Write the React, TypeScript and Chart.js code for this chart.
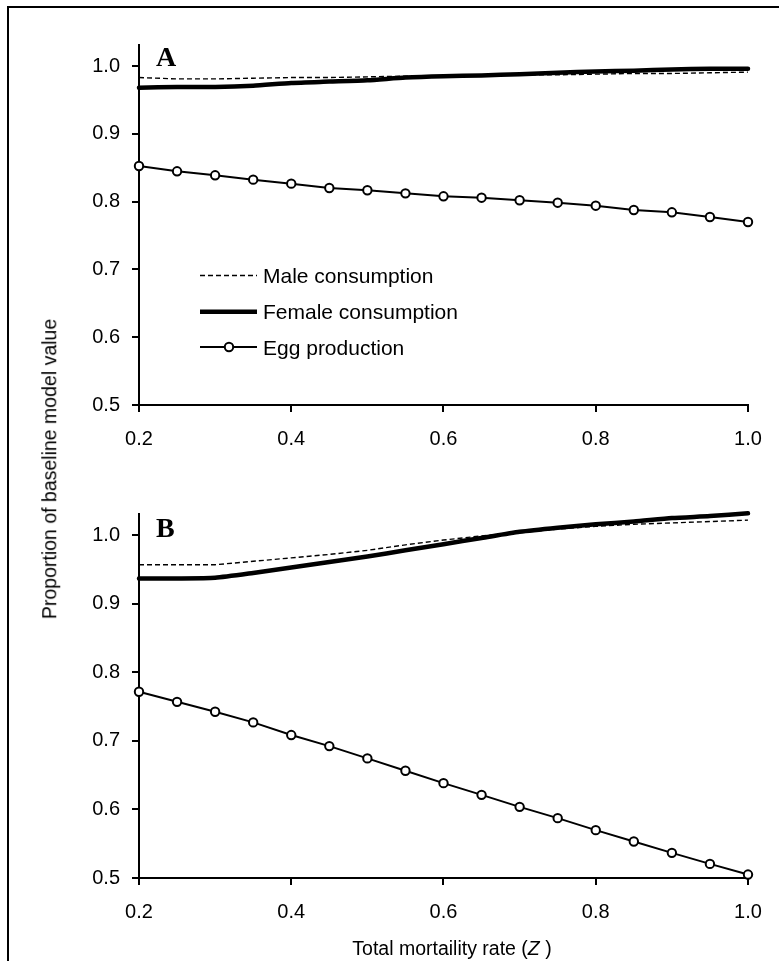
import React, { useEffect, useRef } from "react";
import { Chart, registerables } from "chart.js";

Chart.register(...registerables);

// ---- data ----
const zValues = [0.2, 0.25, 0.3, 0.35, 0.4, 0.45, 0.5, 0.55, 0.6, 0.65, 0.7, 0.75, 0.8, 0.85, 0.9, 0.95, 1.0];
const xTicks = [0.2, 0.4, 0.6, 0.8, 1.0];
const yTicks = [0.5, 0.6, 0.7, 0.8, 0.9, 1.0];
const yMin = 0.5;
const yMax = 1.031;

const maleA = [0.983, 0.981, 0.981, 0.982, 0.983, 0.983, 0.984, 0.985, 0.985, 0.986, 0.987, 0.987, 0.988, 0.989, 0.989, 0.99, 0.991];
const femaleA = [0.968, 0.969, 0.969, 0.971, 0.975, 0.977, 0.979, 0.983, 0.985, 0.986, 0.988, 0.99, 0.992, 0.993, 0.995, 0.996, 0.996];
const eggA = [0.8525, 0.8447, 0.8388, 0.8324, 0.8265, 0.82, 0.8167, 0.8122, 0.8078, 0.8058, 0.802, 0.7984, 0.794, 0.7876, 0.7842, 0.7773, 0.77];

const maleB = [0.957, 0.957, 0.957, 0.962, 0.967, 0.972, 0.978, 0.986, 0.993, 0.999, 1.004, 1.009, 1.013, 1.016, 1.018, 1.02, 1.022];
const femaleB = [0.937, 0.937, 0.938, 0.945, 0.953, 0.961, 0.969, 0.978, 0.987, 0.996, 1.005, 1.011, 1.016, 1.02, 1.025, 1.028, 1.032];
const eggB = [0.7717, 0.757, 0.7425, 0.727, 0.7085, 0.6924, 0.6745, 0.6564, 0.6384, 0.6213, 0.6038, 0.5873, 0.5698, 0.5533, 0.5367, 0.5206, 0.505];

const seriesLabels = ["Male consumption", "Female consumption", "Egg production"];
const panelLabels = ["A", "B"];
const yAxisTitle = "Proportion of baseline model value";
const xAxisTitleMain = "Total mortaility rate (";
const xAxisTitleVar = "Z";
const xAxisTitleEnd = ")";

const SANS = '"Liberation Sans", Arial, Helvetica, sans-serif';
const SERIF = '"Liberation Serif", "Times New Roman", serif';

const toPoints = (ys: number[]) => zValues.map((x, i) => ({ x, y: ys[i] }));

function buildChart(
  canvas: HTMLCanvasElement,
  male: number[],
  female: number[],
  egg: number[],
  panel: string,
  padTop: number,
  xHeight: number,
  letterBaseline: number,
  showLegend: boolean
) {
  const panelPlugin = {
    id: "panelDecor" + panel,
    afterDraw(chart: any) {
      const ctx = chart.ctx;
      ctx.save();
      ctx.fillStyle = "#000";
      ctx.font = `bold 28px ${SERIF}`;
      ctx.textAlign = "left";
      ctx.textBaseline = "alphabetic";
      ctx.fillText(panel, 156, letterBaseline);
      if (showLegend) {
        const rows = [
          { y: 275.5, base: 283.3 },
          { y: 311.7, base: 319.3 },
          { y: 347, base: 354.5 },
        ];
        const x0 = 200;
        const x1 = 257;
        ctx.font = `21px ${SANS}`;
        rows.forEach((r, i) => {
          const ds = chart.data.datasets[[2, 1, 0][i]];
          ctx.save();
          ctx.strokeStyle = "#000";
          ctx.lineWidth = ds.borderWidth;
          ctx.setLineDash(ds.borderDash || []);
          ctx.beginPath();
          ctx.moveTo(x0, r.y);
          ctx.lineTo(x1, r.y);
          ctx.stroke();
          ctx.restore();
          if (ds.pointRadius > 0) {
            ctx.beginPath();
            ctx.arc(229, r.y, ds.pointRadius, 0, Math.PI * 2);
            ctx.fillStyle = "#fff";
            ctx.fill();
            ctx.lineWidth = ds.pointBorderWidth;
            ctx.strokeStyle = "#000";
            ctx.stroke();
          }
          ctx.fillStyle = "#000";
          ctx.fillText(ds.label, 263, r.base);
        });
      }
      ctx.restore();
    },
  };

  return new Chart(canvas, {
    type: "line",
    data: {
      datasets: [
        {
          label: seriesLabels[2],
          data: toPoints(egg),
          borderColor: "#000",
          borderWidth: 2,
          pointRadius: 4.2,
          pointBorderWidth: 2,
          pointBackgroundColor: "#fff",
          pointBorderColor: "#000",
          tension: 0,
          clip: false as any,
        },
        {
          label: seriesLabels[1],
          data: toPoints(female),
          borderColor: "#000",
          borderWidth: 4.5,
          pointRadius: 0,
          tension: 0.2,
          borderCapStyle: "round",
          clip: false as any,
        },
        {
          label: seriesLabels[0],
          data: toPoints(male),
          borderColor: "#000",
          borderWidth: 1.4,
          borderDash: [5, 3],
          pointRadius: 0,
          tension: 0,
          clip: false as any,
        },
      ],
    },
    options: {
      animation: false,
      responsive: false,
      devicePixelRatio: 1,
      events: [],
      layout: { padding: { top: padTop, right: 31, left: 0, bottom: 0 } },
      plugins: { legend: { display: false }, tooltip: { enabled: false }, title: { display: false } },
      scales: {
        x: {
          type: "linear",
          min: 0.2,
          max: 1.0,
          bounds: "data",
          afterBuildTicks: (s: any) => {
            s.ticks = xTicks.map((v) => ({ value: v }));
          },
          afterFit: (s: any) => {
            s.height = xHeight;
          },
          ticks: {
            color: "#000",
            font: { family: SANS, size: 20 },
            padding: 15,
            maxRotation: 0,
            autoSkip: false,
            callback: (v: any) => Number(v).toFixed(1),
          },
          grid: { drawOnChartArea: false, drawTicks: true, tickLength: 7, color: "#000", lineWidth: 2 },
          border: { display: true, color: "#000", width: 2 },
        },
        y: {
          type: "linear",
          min: yMin,
          max: yMax,
          bounds: "data",
          afterBuildTicks: (s: any) => {
            s.ticks = yTicks.map((v) => ({ value: v }));
          },
          afterFit: (s: any) => {
            s.width = 139;
          },
          ticks: {
            color: "#000",
            font: { family: SANS, size: 20 },
            padding: 12,
            autoSkip: false,
            callback: (v: any) => Number(v).toFixed(1),
          },
          grid: { drawOnChartArea: false, drawTicks: true, tickLength: 7, color: "#000", lineWidth: 2 },
          border: { display: true, color: "#000", width: 2 },
        },
      },
    } as any,
    plugins: [panelPlugin],
  });
}

export default function App() {
  const refA = useRef<HTMLCanvasElement>(null);
  const refB = useRef<HTMLCanvasElement>(null);

  useEffect(() => {
    const a = buildChart(refA.current!, maleA, femaleA, eggA, panelLabels[0], 45, 75, 66, true);
    const b = buildChart(refB.current!, maleB, femaleB, eggB, panelLabels[1], 34, 83, 57, false);
    return () => {
      a.destroy();
      b.destroy();
    };
  }, []);

  return (
    <div
      style={{
        position: "absolute",
        left: 0,
        top: 0,
        width: 779,
        height: 961,
        overflow: "hidden",
        background: "#fff",
      }}
    >
      <div
        style={{
          position: "absolute",
          left: 7,
          top: 6,
          width: 1000,
          height: 1200,
          border: "2px solid #000",
          boxSizing: "border-box",
        }}
      />
      <canvas
        ref={refA}
        width={779}
        height={480}
        style={{ position: "absolute", left: 0, top: 0, width: 779, height: 480 }}
      />
      <canvas
        ref={refB}
        width={779}
        height={481}
        style={{ position: "absolute", left: 0, top: 480, width: 779, height: 481 }}
      />
      <div
        style={{
          position: "absolute",
          left: 50,
          top: 469,
          transform: "translate(-50%, -50%) rotate(-90deg)",
          whiteSpace: "nowrap",
          fontFamily: SANS,
          fontSize: 19.5,
          lineHeight: 1,
          color: "#000",
        }}
      >
        {yAxisTitle}
      </div>
      <div
        style={{
          position: "absolute",
          left: 452,
          top: 939,
          transform: "translateX(-50%)",
          whiteSpace: "nowrap",
          fontFamily: SANS,
          fontSize: 19.5,
          lineHeight: 1,
          color: "#000",
        }}
      >
        {xAxisTitleMain}
        <i>{xAxisTitleVar}</i>
        {" " + xAxisTitleEnd}
      </div>
    </div>
  );
}
